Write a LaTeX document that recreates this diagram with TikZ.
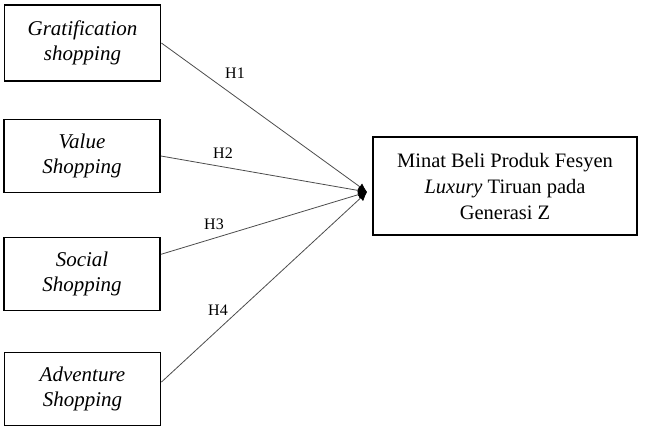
\documentclass[tikz,border=0pt]{standalone}
\usepackage{fontspec}
\setmainfont{Liberation Serif}
\usetikzlibrary{arrows.meta,calc}

\tikzset{
  varbox/.style={draw, line width=1.8pt, minimum width=156pt, minimum height=73pt,
    align=center, font=\fontsize{21}{25}\selectfont\itshape, inner sep=0pt},
  depbox/.style={draw, line width=1.8pt, minimum width=264pt, minimum height=98pt,
    align=center, font=\fontsize{20.5}{26}\selectfont, inner sep=0pt},
  hlink/.style={draw=black!70, line width=0.8pt,
    -{Latex[length=9pt,width=8pt,fill=black,color=black]}},
  hlab/.style={font=\fontsize{16}{16}\selectfont, inner sep=0pt}
}

\begin{document}
\begin{tikzpicture}[x=1pt,y=-1pt]
    \useasboundingbox (0,0) rectangle (648,426);

    % independent variables
    \node[varbox, minimum height=76pt] (grat) at (82.5,43) {Gratification\\shopping};
    \node[varbox] (value) at (82,156) {Value\\Shopping};
    \node[varbox] (social) at (82,274) {Social\\Shopping};
    \node[varbox] (adven) at (82.5,389) {Adventure\\Shopping};

    % dependent variable
    \node[depbox] (minat) at (505,186)
      {Minat Beli Produk Fesyen\\\textit{Luxury} Tiruan pada\\Generasi Z};
    \coordinate (hub) at ($(minat.west)+(-5,6)$);

    % hypotheses
    \draw[hlink] (grat.east) -- (hub);
    \draw[hlink] (value.east) -- (hub);
    \draw[hlink] (social.14) -- (hub);
    \draw[hlink] (adven.5) -- (hub);

    \node[hlab] (h1) at (235,73) {H1};
    \node[hlab] (h2) at (223,153) {H2};
    \node[hlab] (h3) at (214,224) {H3};
    \node[hlab] (h4) at (218,310) {H4};
\end{tikzpicture}
\end{document}
